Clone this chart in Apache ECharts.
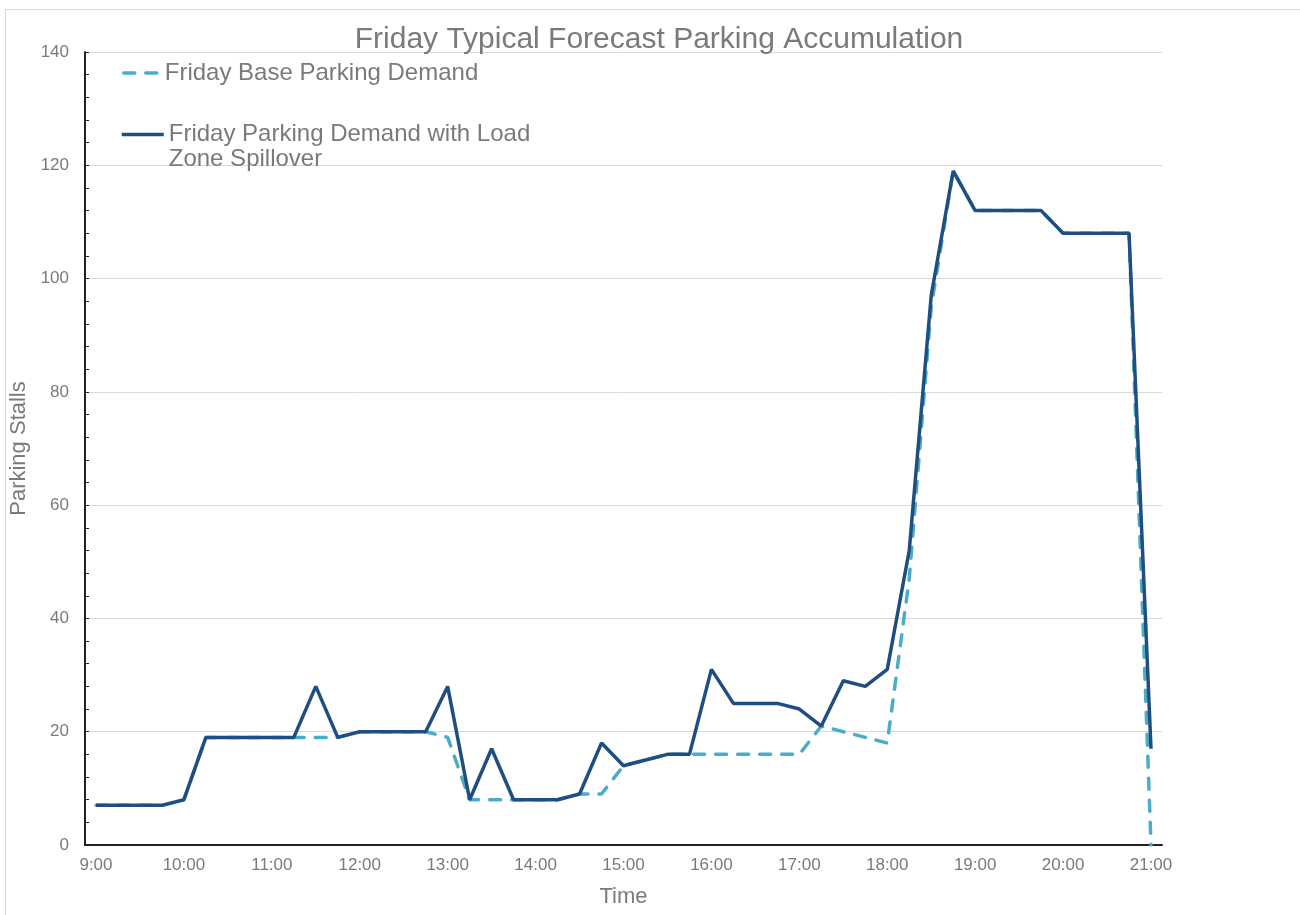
<!DOCTYPE html>
<html>
<head>
<meta charset="utf-8">
<script src="https://cdn.jsdelivr.net/npm/echarts@6/dist/echarts.min.js"></script>
<style>
  html, body { margin: 0; padding: 0; background: #fff; overflow: hidden; }
  #chart { position: absolute; left: 0; top: 0; width: 1300px; height: 915px; }
  #frame { position: absolute; left: 5px; top: 9px; width: 1400px; height: 1000px; border: 1px solid #d9d9d9; }
</style>
</head>
<body>
<div id="frame"></div>
<div id="chart"></div>
<script>
// time of day, every 15 minutes
const times = [
  '9:00', '9:15', '9:30', '9:45', '10:00', '10:15', '10:30', '10:45',
  '11:00', '11:15', '11:30', '11:45', '12:00', '12:15', '12:30', '12:45',
  '13:00', '13:15', '13:30', '13:45', '14:00', '14:15', '14:30', '14:45',
  '15:00', '15:15', '15:30', '15:45', '16:00', '16:15', '16:30', '16:45',
  '17:00', '17:15', '17:30', '17:45', '18:00', '18:15', '18:30', '18:45',
  '19:00', '19:15', '19:30', '19:45', '20:00', '20:15', '20:30', '20:45',
  '21:00'
]
const baseDemand = [
  7, 7, 7, 7, 8, 19, 19, 19,
  19, 19, 19, 19, 20, 20, 20, 20,
  19, 8, 8, 8, 8, 8, 9, 9,
  14, 15, 16, 16, 16, 16, 16, 16,
  16, 21, 20, 19, 18, 47, 95, 119,
  112, 112, 112, 112, 108, 108, 108, 108,
  0
]
const spilloverDemand = [
  7, 7, 7, 7, 8, 19, 19, 19,
  19, 19, 28, 19, 20, 20, 20, 20,
  28, 8, 17, 8, 8, 8, 9, 18,
  14, 15, 16, 16, 31, 25, 25, 25,
  24, 21, 29, 28, 31, 52, 97, 119,
  112, 112, 112, 112, 108, 108, 108, 108,
  17
]
const seriesNames = ['Friday Base Parking Demand', 'Friday Parking Demand with Load Zone Spillover']

const font = "'Liberation Sans', Arial, sans-serif"
const gray = '#7a7a7a'
const lightBlue = '#4bacc6'
const darkBlue = '#1f4e80'

const chart = echarts.init(document.getElementById('chart'))
chart.setOption({
  animation: false,
  textStyle: { fontFamily: font },
  title: {
    text: 'Friday Typical Forecast Parking Accumulation',
    left: 654,
    textAlign: 'center',
    top: 20,
    textStyle: { fontSize: 30, fontWeight: 'normal', color: gray, fontFamily: font }
  },
  legend: [
    {
      left: 117,
      top: 56,
      itemWidth: 36,
      itemHeight: 14,
      data: [seriesNames[0]],
      itemStyle: { opacity: 0 },
      lineStyle: { width: 3.5, type: [11, 11], cap: 'round', color: lightBlue },
      textStyle: { fontSize: 24, color: gray, fontFamily: font }
    },
    {
      left: 115,
      top: 92,
      itemWidth: 42,
      itemHeight: 14,
      data: [seriesNames[1]],
      itemStyle: { opacity: 0 },
      lineStyle: { width: 3.5, color: darkBlue },
      formatter: function() {
        // blank first line keeps the icon beside the first text line
        return '\nFriday Parking Demand with Load\nZone Spillover'
      },
      textStyle: { fontSize: 24, lineHeight: 25, color: gray, fontFamily: font }
    }
  ],
  grid: {
    left: 85,
    right: 138,
    top: 52,
    bottom: 70,
    containLabel: false,
    outerBoundsMode: 'none'
  },
  xAxis: {
    type: 'category',
    boundaryGap: true,
    data: times,
    name: 'Time',
    nameLocation: 'middle',
    nameGap: 41,
    nameTextStyle: { fontSize: 22, color: gray, fontFamily: font },
    axisLine: { lineStyle: { color: '#222', width: 2 } },
    axisTick: { alignWithLabel: true, inside: true, length: 4, interval: 0, lineStyle: { color: '#222' } },
    axisLabel: { interval: 3, fontSize: 17, color: gray, margin: 12, fontFamily: font },
    splitLine: { show: false }
  },
  yAxis: {
    type: 'value',
    min: 0,
    max: 140,
    interval: 20,
    name: 'Parking Stalls',
    nameLocation: 'middle',
    nameGap: 47,
    nameTextStyle: { fontSize: 22, color: gray, fontFamily: font },
    axisLine: { show: true, lineStyle: { color: '#222', width: 2 } },
    axisTick: { show: true, inside: true, length: 4, lineStyle: { color: '#222' } },
    minorTick: { show: true, splitNumber: 5, length: 4, lineStyle: { color: '#222' } },
    axisLabel: { fontSize: 17, color: gray, margin: 16, fontFamily: font },
    splitLine: { lineStyle: { color: '#d9d9d9', width: 1 } }
  },
  series: [
    {
      name: seriesNames[0],
      type: 'line',
      data: baseDemand,
      symbol: 'none',
      lineStyle: { color: lightBlue, width: 3.5, type: [11, 11], cap: 'round' },
      itemStyle: { color: lightBlue }
    },
    {
      name: seriesNames[1],
      type: 'line',
      data: spilloverDemand,
      symbol: 'none',
      lineStyle: { color: darkBlue, width: 3.5 },
      itemStyle: { color: darkBlue }
    }
  ]
})
</script>
</body>
</html>
